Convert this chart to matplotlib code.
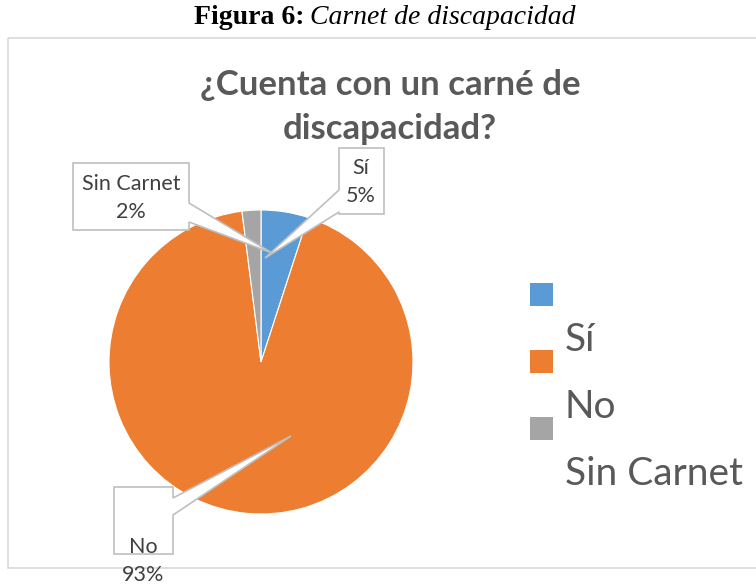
import matplotlib.pyplot as plt
from matplotlib.patches import Polygon, Rectangle

categorias = ['Sí', 'No', 'Sin Carnet']
valores = [5, 93, 2]
colores = ['#5B9BD5', '#ED7D31', '#A5A5A5']

TITULO = '¿Cuenta con un carné de\ndiscapacidad?'
GRIS_TEXTO = '#595959'

fig = plt.figure(figsize=(7.56, 5.86), dpi=100)

# pie en su propio eje (caja del circulo en pixeles: x 109-413, y 210-514)
ax_pie = fig.add_axes([109 / 756, (586 - 514) / 586, 304 / 756, 304 / 586])
ax_pie.pie(valores, colors=colores, startangle=90, counterclock=False,
           wedgeprops=dict(edgecolor='white', linewidth=0.8))
ax_pie.set_xlim(-1, 1)
ax_pie.set_ylim(-1, 1)
ax_pie.set_aspect('auto')
ax_pie.axis('off')

# eje superpuesto en coordenadas de pixel para marco, textos y llamadas
ax = fig.add_axes([0, 0, 1, 1], zorder=5)
ax.set_xlim(0, 756)
ax.set_ylim(586, 0)
ax.axis('off')
ax.patch.set_alpha(0)

# marco del grafico
ax.add_patch(Rectangle((8, 38), 760, 530, fill=False, edgecolor='#d9d9d9', linewidth=1.2))

# leyenda del documento
ax.text(304, 18, 'Figura 6:', ha='right', va='center', fontsize=20,
        family='Liberation Serif', weight='bold')
ax.text(310, 18, 'Carnet de discapacidad', ha='left', va='center', fontsize=20,
        family='Liberation Serif', style='italic')

ax.text(390, 107, TITULO, ha='center', va='center', fontsize=25, weight='bold',
        family='Lato', color=GRIS_TEXTO, linespacing=1.45)

# llamadas (caja + cuña)
llamadas = {
    'Sí': [(339, 148), (384, 148), (384, 214), (339, 214), (339, 212), (265, 258), (339, 190)],
    'Sin Carnet': [(73, 163), (189, 163), (189, 203), (272, 253), (189, 222), (189, 230), (73, 230)],
    'No': [(114, 487), (173, 487), (173, 498), (291, 436), (173, 515), (173, 554), (114, 554)],
}
pos_texto = {'Sí': (361, 182), 'Sin Carnet': (131, 198), 'No': (143, 561)}
for cat, val in zip(categorias, valores):
    ax.add_patch(Polygon(llamadas[cat], closed=True, facecolor='white',
                         edgecolor='#bfbfbf', linewidth=1.2))
    x, y = pos_texto[cat]
    ax.text(x, y, f'{cat}\n{val}%', ha='center', va='center', fontsize=15.5,
            family='Lato', color='#404040', linespacing=1.45)

# leyenda manual (texto desplazado bajo cada marcador, como en el original)
for i, (cat, col) in enumerate(zip(categorias, colores)):
    y0 = 283 + i * 67
    ax.add_patch(Rectangle((530, y0), 23, 23, facecolor=col, edgecolor='none'))
    ax.text(565, y0 + 57, cat, ha='left', va='center', fontsize=28,
            family='Lato', color=GRIS_TEXTO)

fig.savefig('out.png', dpi=100)
